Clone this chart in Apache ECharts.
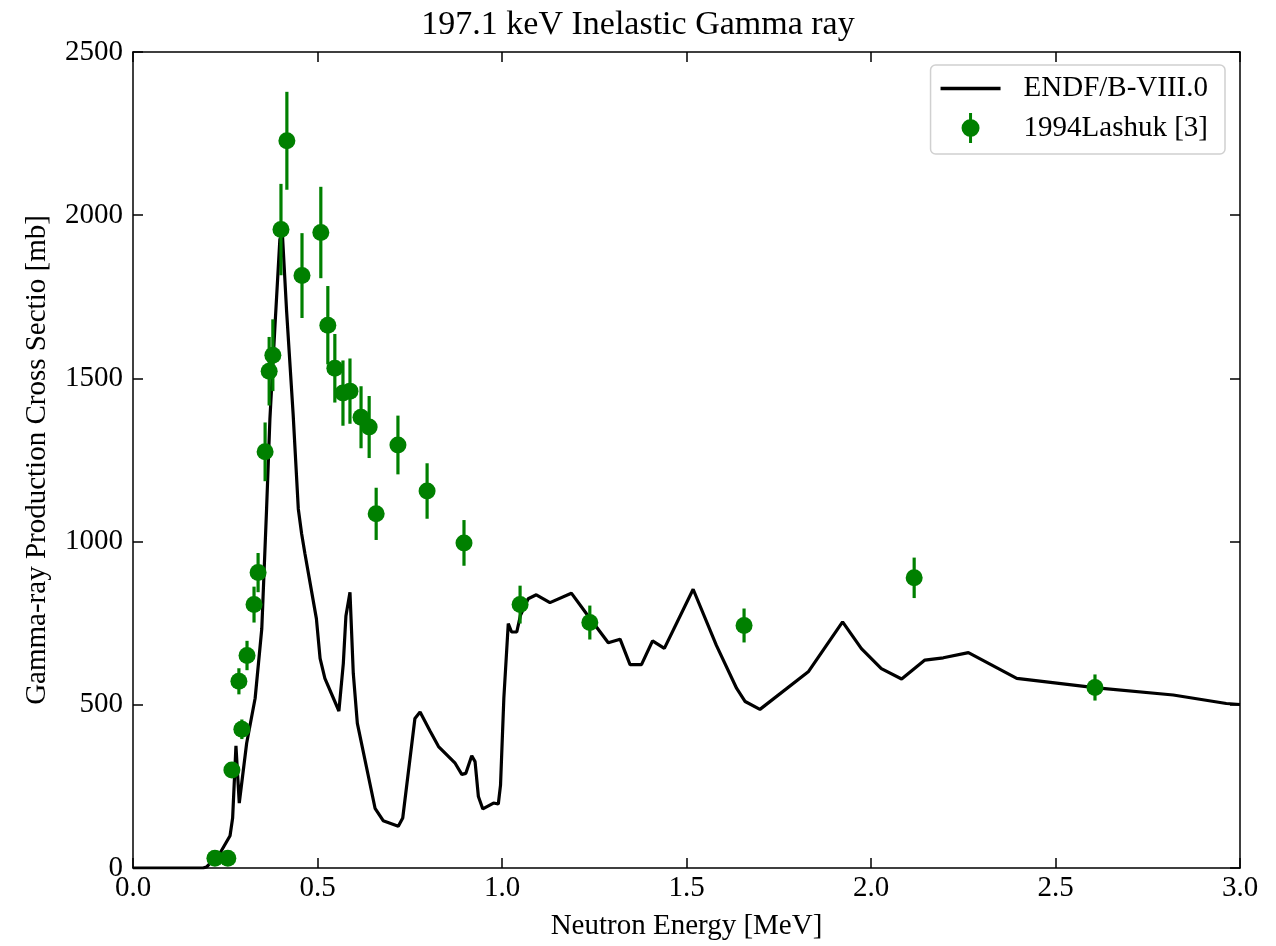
<!DOCTYPE html>
<html>
<head>
<meta charset="utf-8">
<script src="https://cdn.jsdelivr.net/npm/echarts@6/dist/echarts.min.js"></script>
<style>
  html, body { margin: 0; padding: 0; background: #fff; }
  #chart { width: 1276px; height: 946px; }
</style>
</head>
<body>
<div id="chart"></div>
<script>
// ENDF/B-VIII.0 evaluation: [energy MeV, cross section mb]
const endfCurve = [
  [0.0, 0], [0.19, 0], [0.199, 3], [0.236, 46], [0.263, 99], [0.27, 153],
  [0.279, 374], [0.288, 199], [0.308, 382], [0.331, 520], [0.349, 733],
  [0.362, 1100], [0.371, 1375], [0.385, 1666], [0.398, 1926], [0.405, 1940],
  [0.416, 1711], [0.434, 1390], [0.448, 1100], [0.457, 1024], [0.466, 963],
  [0.497, 764], [0.507, 642], [0.52, 581], [0.558, 481], [0.57, 627],
  [0.577, 772], [0.588, 845], [0.597, 596], [0.608, 443], [0.656, 183],
  [0.678, 145], [0.719, 128], [0.731, 153], [0.764, 458], [0.778, 478],
  [0.805, 420], [0.828, 372], [0.873, 321], [0.891, 287], [0.902, 290],
  [0.918, 344], [0.927, 326], [0.936, 219], [0.948, 181], [0.977, 199],
  [0.99, 196], [0.996, 254], [1.005, 520], [1.017, 749], [1.026, 723],
  [1.04, 723], [1.05, 774], [1.071, 825], [1.093, 837], [1.13, 813],
  [1.188, 842], [1.229, 779], [1.288, 690], [1.32, 701], [1.347, 623],
  [1.378, 623], [1.408, 696], [1.44, 673], [1.518, 854], [1.581, 682],
  [1.636, 550], [1.659, 510], [1.699, 486], [1.83, 601], [1.923, 754],
  [1.974, 672], [2.028, 611], [2.083, 579], [2.146, 637], [2.196, 644],
  [2.264, 660], [2.395, 581], [2.612, 552], [2.819, 530], [2.963, 504],
  [3.0, 501]
]

// 1994Lashuk measurement
const lashukEnergy = [
  0.222, 0.257, 0.268, 0.287, 0.295, 0.309, 0.328, 0.339, 0.358, 0.369,
  0.379, 0.401, 0.417, 0.458, 0.509, 0.528, 0.547, 0.569, 0.588, 0.618,
  0.640, 0.659, 0.718, 0.797, 0.897, 1.049, 1.238, 1.656, 2.117, 2.607
]
const lashukValue = [
  30, 30, 300, 572, 425, 651, 807, 905, 1275, 1522,
  1571, 1956, 2228, 1815, 1947, 1663, 1531, 1455, 1461, 1381,
  1351, 1085, 1296, 1155, 996, 807, 752, 743, 889, 553
]
const lashukError = [
  3, 3, 20, 40, 30, 45, 55, 60, 90, 105,
  110, 140, 150, 130, 140, 120, 105, 100, 100, 95,
  95, 80, 90, 85, 70, 58, 52, 52, 62, 40
]

const xTicks = [0, 0.5, 1.0, 1.5, 2.0, 2.5, 3.0]
const yTicks = [0, 500, 1000, 1500, 2000, 2500]

const serif = 'Liberation Serif'
const green = '#008000'

const points = lashukEnergy.map((e, i) => [e, lashukValue[i], lashukError[i]])

let myChart = echarts.init(document.getElementById('chart'))

const axisCommon = {
  axisLine: { show: true, onZero: false, lineStyle: { color: '#000', width: 1.5 } },
  axisTick: { show: true, inside: true, length: 10, lineStyle: { color: '#000', width: 1.5 } },
  splitLine: { show: false }
}

myChart.setOption({
  animation: false,
  title: {
    text: '197.1 keV Inelastic Gamma ray',
    left: 'center',
    top: 3,
    textStyle: { fontFamily: serif, fontSize: 34, fontWeight: 'normal', color: '#000' }
  },
  legend: {
    orient: 'vertical',
    right: 51,
    top: 65,
    padding: [9, 17, 11, 10],
    itemGap: 10,
    itemWidth: 60,
    itemHeight: 30,
    borderColor: '#d0d0d0',
    borderWidth: 1.5,
    borderRadius: 5,
    textStyle: { fontFamily: serif, fontSize: 29, color: '#000', padding: [0, 0, 0, 18] },
    data: [
      { name: 'ENDF/B-VIII.0', icon: 'path://M0,0 L60,0 L60,3.5 L0,3.5 Z' },
      { name: '1994Lashuk [3]', icon: 'path://M7.5,0 L10.5,0 L10.5,30 L7.5,30 Z M18,15 A9,9 0 1 1 0,15 A9,9 0 1 1 18,15 Z' }
    ]
  },
  grid: { left: 133, right: 36, top: 52, bottom: 76 },
  xAxis: [
    Object.assign({
      type: 'value',
      min: 0,
      max: 3,
      interval: 0.5,
      name: 'Neutron Energy [MeV]',
      nameLocation: 'middle',
      nameGap: 44,
      nameTextStyle: { fontFamily: serif, fontSize: 29, color: '#000' },
      axisLabel: {
        fontFamily: serif, fontSize: 29, color: '#000', margin: 6,
        formatter: v => (xTicks.indexOf(v) >= 0 ? v.toFixed(1) : '')
      }
    }, axisCommon),
    Object.assign({
      type: 'value', position: 'top', min: 0, max: 3, interval: 0.5,
      axisLabel: { show: false }
    }, axisCommon)
  ],
  yAxis: [
    Object.assign({
      type: 'value',
      min: 0,
      max: 2500,
      interval: 500,
      name: 'Gamma-ray Production Cross Sectio [mb]',
      nameLocation: 'middle',
      nameGap: 81,
      nameTextStyle: { fontFamily: serif, fontSize: 29, color: '#000' },
      axisLabel: {
        fontFamily: serif, fontSize: 29, color: '#000', margin: 10,
        formatter: v => (yTicks.indexOf(v) >= 0 ? String(v) : '')
      }
    }, axisCommon),
    Object.assign({
      type: 'value', position: 'right', min: 0, max: 2500, interval: 500,
      axisLabel: { show: false }
    }, axisCommon)
  ],
  series: [
    {
      name: 'ENDF/B-VIII.0',
      type: 'line',
      data: endfCurve,
      symbol: 'none',
      lineStyle: { color: '#000', width: 3.2 },
      itemStyle: { color: '#000' },
      z: 2
    },
    {
      name: '1994Lashuk [3]',
      type: 'custom',
      data: points,
      itemStyle: { color: green },
      renderItem: function (params, api) {
        const x = api.value(0)
        const y = api.value(1)
        const e = api.value(2)
        const p1 = api.coord([x, y - e])
        const p2 = api.coord([x, y + e])
        return {
          type: 'line',
          shape: { x1: p1[0], y1: p1[1], x2: p2[0], y2: p2[1] },
          style: { stroke: green, lineWidth: 3.2 }
        }
      },
      z: 3
    },
    {
      name: '1994Lashuk [3]',
      type: 'scatter',
      data: points,
      symbol: 'circle',
      symbolSize: 17,
      itemStyle: { color: green, opacity: 1 },
      z: 4
    }
  ]
})
</script>
</body>
</html>
